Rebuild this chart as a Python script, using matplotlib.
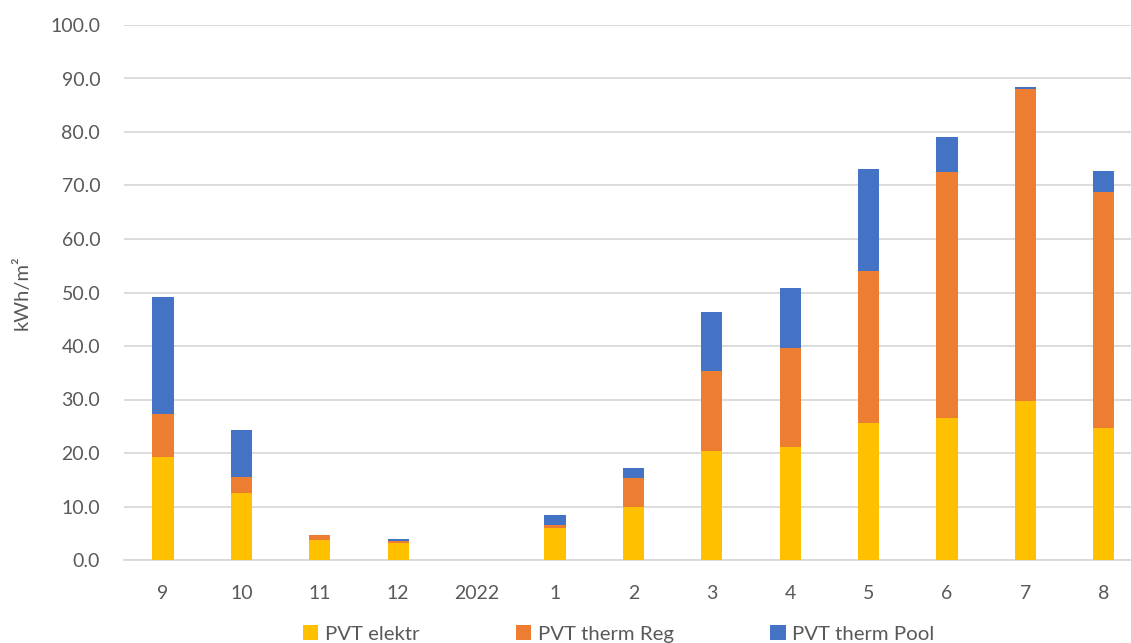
import numpy as np
import matplotlib
matplotlib.use("Agg")
import matplotlib.pyplot as plt

# monthly PVT yield per m2, Sep 2021 .. Aug 2022
months = ["9", "10", "11", "12", "2022", "1", "2", "3", "4", "5", "6", "7", "8"]
pvt_elektr = [19.2, 12.5, 3.8, 3.2, 0.0, 5.9, 10.0, 20.3, 21.2, 25.7, 26.5, 29.8, 24.7]
pvt_therm_reg = [8.0, 3.1, 0.9, 0.4, 0.0, 0.7, 5.3, 15.1, 18.5, 28.4, 46.0, 58.3, 44.0]
pvt_therm_pool = [21.9, 8.7, 0.0, 0.4, 0.0, 1.9, 1.9, 11.0, 11.1, 18.9, 6.5, 0.3, 4.0]

plt.rcParams["font.family"] = ["Lato", "DejaVu Sans"]
txt_col = "#595959"
grid_col = "#d9d9d9"
fs = 14

W, H = 1131, 643
fig = plt.figure(figsize=(W / 100, H / 100), dpi=100)
ax = fig.add_axes([123.8 / W, 83 / H, (1143 - 123.8) / W, 535 / H])

x = np.arange(len(months))
elek = np.array(pvt_elektr)
reg = np.array(pvt_therm_reg)
pool = np.array(pvt_therm_pool)
w = 0.27
ax.bar(x, elek, w, color="#FFC000", label="PVT elektr", zorder=3)
ax.bar(x, reg, w, bottom=elek, color="#ED7D31", label="PVT therm Reg", zorder=3)
ax.bar(x, pool, w, bottom=elek + reg, color="#4472C4", label="PVT therm Pool", zorder=3)

ax.set_xlim(-0.5, len(months) - 0.5)
ax.set_ylim(0, 100)
ax.set_yticks(np.arange(0, 101, 10))
ax.set_yticklabels(["%.1f" % v for v in np.arange(0, 101, 10)])
ax.set_xticks(x)
ax.set_xticklabels(months)
ax.yaxis.grid(True, color=grid_col, linewidth=1.3, zorder=0)
ax.tick_params(length=0, colors=txt_col, labelsize=fs)
ax.tick_params(axis="x", pad=18)
ax.tick_params(axis="y", pad=17)
for s in ["top", "right", "left"]:
    ax.spines[s].set_visible(False)
ax.spines["bottom"].set_color(grid_col)
ax.spines["bottom"].set_linewidth(1.3)
ax.set_ylabel("kWh/m²", color=txt_col, fontsize=14.5, labelpad=14)

fig.legend(loc="center", bbox_to_anchor=(0.547, 9 / H), ncol=3, frameon=False,
           fontsize=14.7, labelcolor=txt_col, handlelength=0.75, handleheight=0.75,
           handletextpad=0.3, columnspacing=4.75)

fig.savefig("out.png", dpi=100)
